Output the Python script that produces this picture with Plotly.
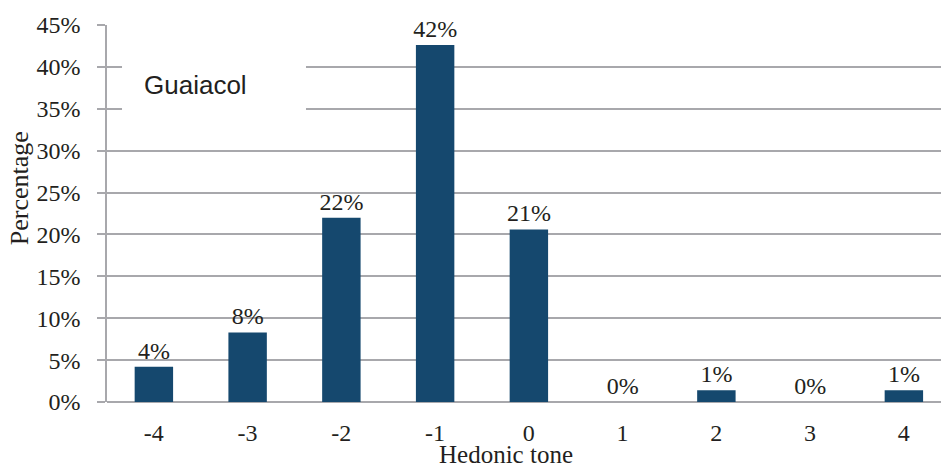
import plotly.graph_objects as go

categories = ["-4", "-3", "-2", "-1", "0", "1", "2", "3", "4"]
values = [4.2, 8.3, 22.0, 42.6, 20.6, 0.0, 1.4, 0.0, 1.4]
labels = ["4%", "8%", "22%", "42%", "21%", "0%", "1%", "0%", "1%"]
ytickvals = [0, 5, 10, 15, 20, 25, 30, 35, 40, 45]
yticktext = ["0%", "5%", "10%", "15%", "20%", "25%", "30%", "35%", "40%", "45%"]

serif = "Liberation Serif, Times New Roman, serif"
sans = "Liberation Sans, Arial, sans-serif"
grid = "#A8A8AC"
txt = "#231F20"

fig = go.Figure()
fig.add_trace(go.Bar(
    x=categories, y=values, text=labels, textposition="outside",
    constraintext="none",
    textfont=dict(family=serif, size=24, color=txt),
    marker=dict(color="#15486E", line=dict(width=0)),
    width=0.41, cliponaxis=False,
))

fig.update_layout(
    width=941, height=466,
    margin=dict(l=107, r=0, t=25, b=64),
    plot_bgcolor="white", paper_bgcolor="white",
    showlegend=False,
    xaxis=dict(
        type="category", range=[-0.5, 8.396],
        showgrid=False, showline=False, zeroline=False,
        ticks="", ticklabelstandoff=14,
        tickfont=dict(family=serif, size=24, color=txt),
    ),
    yaxis=dict(
        range=[0, 45], tickmode="array", tickvals=ytickvals, ticktext=yticktext,
        showgrid=True, gridcolor=grid, gridwidth=1.6,
        showline=True, linecolor=grid, linewidth=1.6,
        ticks="outside", ticklen=8, tickcolor=grid, tickwidth=1.6,
        ticklabelstandoff=12,
        zeroline=True, zerolinecolor=grid, zerolinewidth=1.8,
        tickfont=dict(family=serif, size=24, color=txt),
    ),
    shapes=[dict(type="rect", xref="paper", yref="paper",
                 x0=0.018, x1=0.2386, y0=0.761, y1=0.907,
                 fillcolor="white", line=dict(width=0), layer="above")],
    annotations=[
        dict(text="Guaiacol", xref="paper", yref="paper", x=0.042, y=0.841,
             xanchor="left", yanchor="middle", showarrow=False,
             font=dict(family=sans, size=26, color=txt)),
        dict(text="Percentage", xref="paper", yref="paper", x=-0.104, y=0.568,
             xanchor="center", yanchor="middle", textangle=-90, showarrow=False,
             font=dict(family=serif, size=26, color=txt)),
        dict(text="Hedonic tone", xref="paper", yref="paper", x=0.479, y=-0.138,
             xanchor="center", yanchor="middle", showarrow=False,
             font=dict(family=serif, size=25, color=txt)),
    ],
)

fig.write_html("out.html")
